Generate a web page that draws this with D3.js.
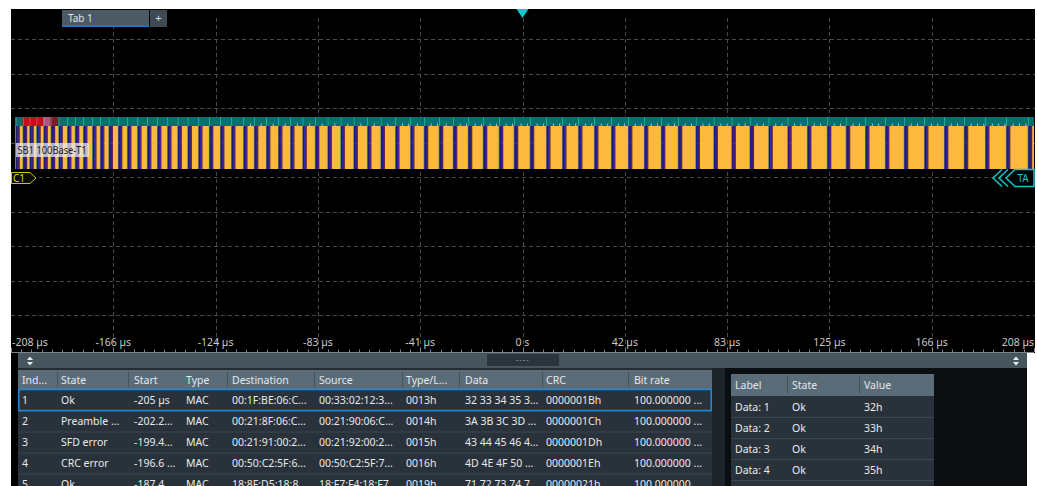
<!DOCTYPE html>
<html><head><meta charset="utf-8">
<script src="https://cdn.jsdelivr.net/npm/d3@7"></script>
<style>
html,body{margin:0;padding:0;background:#fff;overflow:hidden}
svg{display:block;font-family:"Noto Sans","Open Sans",sans-serif}
</style></head><body><svg id="c" width="1037" height="486"></svg>
<script>
// ---------- data ----------
const timeDomain = [-208, 208];
const tickValues = [-208, -166.4, -124.8, -83.2, -41.6, 0, 41.6, 83.2, 124.8, 166.4, 208];
const tickLabels = ["-208 µs","-166 µs","-124 µs","-83 µs","-41 µs","0 s","42 µs","83 µs","125 µs","166 µs","208 µs"];
const frameStarts = [-206.2,-203.2,-200.5,-197.7,-194.8,-191.8,-188.7,-185.2,-182.0,-178.7,-175.0,-171.8,-168.3,-164.5,-160.8,-156.7,-152.7,-148.6,-144.5,-140.3,-136.2,-131.9,-127.5,-123.0,-118.5,-113.6,-109.2,-104.3,-99.4,-94.5,-89.5,-84.4,-79.3,-74.0,-68.7,-63.2,-57.7,-51.8,-45.7,-40.1,-34.0,-28.3,-22.2,-16.1,-9.6,-3.5,3.0,9.6,16.1,22.6,29.1,36.0,42.9,49.4,56.3,63.2,70.4,77.7,85.0,92.4,100.0,107.7,115.7,123.8,131.5,139.3,147.4,155.1,163.3,171.4,179.5,188.1,196.6,205.5];
const frameFlags = ["ok","err","err","err","warn","fault"];
const headerFieldBytes = [7, 1, 6, 6, 2];
const byteTimeUs = 0.08;
const busLabel = "SB1 100Base-T1";

const tableHeaders = ["Ind...","State","Start","Type","Destination","Source","Type/L...","Data","CRC","Bit rate"];
const rowIndex = ["1","2","3","4","5"];
const rowState = ["Ok","Preamble ...","SFD error","CRC error","Ok"];
const rowStart = ["-205 µs","-202.2...","-199.4...","-196.6 ...","-187.4..."];
const rowType = ["MAC","MAC","MAC","MAC","MAC"];
const rowDest = ["00:1F:BE:06:C...","00:21:8F:06:C...","00:21:91:00:2...","00:50:C2:5F:6...","18:8F:D5:18:8..."];
const rowSrc = ["00:33:02:12:3...","00:21:90:06:C...","00:21:92:00:2...","00:50:C2:5F:7...","18:F7:F4:18:F7..."];
const rowTypeLen = ["0013h","0014h","0015h","0016h","0019h"];
const rowData = ["32 33 34 35 3...","3A 3B 3C 3D ...","43 44 45 46 4...","4D 4E 4F 50 ...","71 72 73 74 7..."];
const rowCrc = ["0000001Bh","0000001Ch","0000001Dh","0000001Eh","00000021h"];
const rowBitrate = ["100.000000 ...","100.000000 ...","100.000000 ...","100.000000 ...","100.000000 ..."];

const detailHeaders = ["Label","State","Value"];
const detailLabels = ["Data: 1","Data: 2","Data: 3","Data: 4"];
const detailStates = ["Ok","Ok","Ok","Ok"];
const detailValues = ["32h","33h","34h","35h"];

// ---------- drawing ----------
const svg = d3.select("#c");
const W = 1037, H = 486;
const x = d3.scaleLinear().domain(timeDomain).range([11, 1034]);
const yDiv = d3.scaleLinear().domain([0, 10]).range([4.5, 350]);

svg.append("rect").attr("width", W).attr("height", H).attr("fill", "#fff");
svg.append("rect").attr("x", 11).attr("y", 9).attr("width", 1024).attr("height", 344).attr("fill", "#000");
svg.append("rect").attr("x", 11).attr("y", 353).attr("width", 1016).attr("height", 133).attr("fill", "#000");

// grid
const grid = svg.append("g").attr("stroke", "#484848").attr("stroke-dasharray", "4,3").attr("stroke-width", 1);
tickValues.slice(1, -1).forEach(v => {
  grid.append("line").attr("x1", Math.round(x(v)) + 0.5).attr("x2", Math.round(x(v)) + 0.5)
    .attr("y1", 18).attr("y2", 351);
});
d3.range(1, 10).forEach(k => {
  const yy = Math.round(yDiv(k)) + 0.5;
  grid.append("line").attr("x1", 11).attr("x2", 1035).attr("y1", yy).attr("y2", yy);
});

// tab
svg.append("rect").attr("x", 62).attr("y", 10).attr("width", 87).attr("height", 17).attr("fill", "#4b5a65");
svg.append("rect").attr("x", 62).attr("y", 25).attr("width", 87).attr("height", 2).attr("fill", "#1677cc");
svg.append("text").attr("x", 68).attr("y", 22).attr("fill", "#dfe4e8").attr("font-size", 10).text("Tab 1");
svg.append("rect").attr("x", 150).attr("y", 10).attr("width", 17).attr("height", 17).attr("fill", "#3e4b55");
svg.append("text").attr("x", 158.5).attr("y", 22).attr("fill", "#dfe4e8").attr("font-size", 11).attr("text-anchor", "middle").text("+");

// trigger triangle
svg.append("path").attr("d", `M${x(0)-6},9 L${x(0)+6},9 L${x(0)},18 Z`).attr("fill", "#19c6d0");

// bus
const busTop = 117, busMid = 126, busBot = 169;
const headerColors = ["#1c1a84", "#5e24a0", "#2a2ab8", "#562490", "#a8285c"];
const flagColors = {ok: "#0c6e6b", err: "#c3101a", warn: "#a8587c", fault: "#7c1e28"};
const flagSep = {ok: "#2aa6a2", err: "#e04a50", warn: "#c888a0", fault: "#a04850"};
const frames = frameStarts.map((t, i) => ({
  t0: t,
  t1: i < frameStarts.length - 1 ? frameStarts[i + 1] : timeDomain[1],
  flag: frameFlags[i] || "ok"
}));
const bus = svg.append("g");
frames.forEach(f => {
  const x0 = x(Math.max(f.t0, timeDomain[0])), x1 = x(Math.min(f.t1, timeDomain[1]));
  bus.append("rect").attr("x", x0).attr("y", busTop).attr("width", x1 - x0).attr("height", busMid - busTop).attr("fill", flagColors[f.flag]);
  bus.append("rect").attr("x", x0).attr("y", busTop).attr("width", 1).attr("height", busMid - busTop).attr("fill", flagSep[f.flag]);
  let t = f.t0;
  headerFieldBytes.forEach((b, j) => {
    const te = Math.min(t + b * byteTimeUs, f.t1);
    bus.append("rect").attr("x", x(t)).attr("y", busMid).attr("width", Math.max(0, x(te) - x(t))).attr("height", busBot - busMid).attr("fill", headerColors[j]);
    t = te;
  });
  if (t < f.t1) {
    bus.append("rect").attr("x", x(t)).attr("y", busMid).attr("width", x1 - x(t)).attr("height", busBot - busMid).attr("fill", "#fdb93e");
    // small byte-label marks at the bottom of the label band
    if (f.t0 > -115) {
      for (let tt = t + 1.0; tt < f.t1 - 0.6; tt += 2.56) {
        bus.append("rect").attr("x", x(tt)).attr("y", busMid - 2.5).attr("width", 1).attr("height", 2.5).attr("fill", "#c9d6d6").attr("opacity", 0.8);
      }
    }
  }
  bus.append("rect").attr("x", x0 - 0.3).attr("y", busMid).attr("width", 0.6).attr("height", busBot - busMid).attr("fill", "#9ad84a");
});

// bus label
const lbl = svg.append("g");
lbl.append("rect").attr("x", 16).attr("y", 143).attr("width", 73).attr("height", 14).attr("fill", "rgba(235,235,235,0.72)");
lbl.append("text").attr("x", 17.5).attr("y", 154).attr("font-size", 10.5).attr("fill", "#1a1a1a")
  .attr("textLength", 69).attr("lengthAdjust", "spacingAndGlyphs").text(busLabel);

// C1 marker
svg.append("path").attr("d", "M11.5,172.5 L30,172.5 L36,178 L30,183.5 L11.5,183.5 Z").attr("fill", "#0c0c00").attr("stroke", "#c8c800").attr("stroke-width", 1);
svg.append("text").attr("x", 13).attr("y", 182).attr("font-size", 10).attr("fill", "#dada20").text("C1");

// TA marker
const ta = svg.append("g").attr("fill", "none").attr("stroke", "#18c4c8").attr("stroke-width", 1.5);
ta.append("path").attr("d", "M1034,169.5 L1015,169.5 L1006,178 L1015,186.5 L1034,186.5 Z").attr("fill", "#000");
ta.append("path").attr("d", "M1008,169.5 L999,178 L1008,186.5");
ta.append("path").attr("d", "M1002,169.5 L993,178 L1002,186.5");
svg.append("text").attr("x", 1023).attr("y", 182).attr("font-size", 10).attr("fill", "#18c4c8").attr("text-anchor", "middle").text("TA");

// axis labels
const ax = svg.append("g").attr("font-size", 10.5).attr("fill", "#c8c8c8");
tickValues.forEach((v, i) => {
  const anchor = i === 0 ? "start" : (i === tickValues.length - 1 ? "end" : "middle");
  const xx = i === 0 ? x(v) + 1 : x(v);
  ax.append("text").attr("x", xx).attr("y", 346).attr("text-anchor", anchor).text(tickLabels[i]);
});
// minor ticks
const minor = svg.append("g").attr("stroke", "#7a858c").attr("stroke-width", 1);
d3.range(0, 101).forEach(k => {
  const v = timeDomain[0] + k * (timeDomain[1] - timeDomain[0]) / 100;
  const xx = Math.round(x(v)) + 0.5;
  minor.append("line").attr("x1", xx).attr("x2", xx).attr("y1", k % 10 === 0 ? 348 : 349.5).attr("y2", 352);
});
svg.append("line").attr("x1", 11).attr("x2", 1034).attr("y1", 352.5).attr("y2", 352.5).attr("stroke", "#7a858c");

// scroll bar
svg.append("rect").attr("x", 18).attr("y", 353).attr("width", 1009).attr("height", 15).attr("fill", "#47555f");
svg.append("rect").attr("x", 487).attr("y", 354).attr("width", 72).attr("height", 12).attr("fill", "#2b343a");
svg.append("line").attr("x1", 516).attr("x2", 530).attr("y1", 360.5).attr("y2", 360.5).attr("stroke", "#6d7a84").attr("stroke-dasharray", "2,1.5");
function updown(cx) {
  svg.append("path").attr("d", `M${cx-3},360 L${cx+3},360 L${cx},356.5 Z`).attr("fill", "#e8ecef");
  svg.append("path").attr("d", `M${cx-3},362 L${cx+3},362 L${cx},365.5 Z`).attr("fill", "#e8ecef");
}
updown(30); updown(1016);

// main table
const tX = 18, tR = 712;
svg.append("rect").attr("x", tX).attr("y", 368).attr("width", tR - tX).attr("height", 118).attr("fill", "#252d33");
svg.append("rect").attr("x", tX).attr("y", 370).attr("width", tR - tX).attr("height", 19).attr("fill", "#5b6c79");
const colX = [22, 61, 134, 186, 232, 319, 406, 465, 546, 634];
const dividers = [57, 128, 227, 314, 402, 459, 542, 628];
dividers.forEach(d => svg.append("line").attr("x1", d + 0.5).attr("x2", d + 0.5).attr("y1", 372).attr("y2", 387).attr("stroke", "#43515b"));
const hdr = svg.append("g").attr("font-size", 10.5).attr("fill", "#e2e8ec");
tableHeaders.forEach((h, i) => hdr.append("text").attr("x", colX[i]).attr("y", 383.5).text(h));
const rowH = 21, rowTop = 389.5;
const columns = [rowIndex, rowState, rowStart, rowType, rowDest, rowSrc, rowTypeLen, rowData, rowCrc, rowBitrate];
rowIndex.forEach((r, ri) => {
  const yTop = rowTop + ri * rowH;
  svg.append("rect").attr("x", tX).attr("y", yTop).attr("width", tR - tX).attr("height", rowH).attr("fill", "#29323a");
  if (ri > 0) svg.append("line").attr("x1", tX).attr("x2", tR).attr("y1", yTop + 0.5).attr("y2", yTop + 0.5).attr("stroke", "#3c474f");
  const g = svg.append("g").attr("font-size", 10.5).attr("fill", "#e8eaec");
  columns.forEach((col, ci) => g.append("text").attr("x", colX[ci]).attr("y", yTop + 14.5).text(col[ri]));
});
svg.append("rect").attr("x", tX + 0.75).attr("y", rowTop).attr("width", tR - tX - 1.5).attr("height", rowH).attr("fill", "none").attr("stroke", "#1f8ad8").attr("stroke-width", 1.5);

// right panel
svg.append("rect").attr("x", 712).attr("y", 368).attr("width", 13).attr("height", 118).attr("fill", "#1e252a");
svg.append("rect").attr("x", 725).attr("y", 368).attr("width", 302).attr("height", 118).attr("fill", "#0b0e10");
const dX = 731, dR = 934;
svg.append("rect").attr("x", dX).attr("y", 374).attr("width", dR - dX).attr("height", 22).attr("fill", "#5b6c79");
const dColX = [735, 792, 864];
[787, 859].forEach(d => svg.append("line").attr("x1", d + 0.5).attr("x2", d + 0.5).attr("y1", 376).attr("y2", 394).attr("stroke", "#43515b"));
const dh = svg.append("g").attr("font-size", 10.5).attr("fill", "#e2e8ec");
detailHeaders.forEach((h, i) => dh.append("text").attr("x", dColX[i]).attr("y", 389).text(h));
const dCols = [detailLabels, detailStates, detailValues];
const dTop = 396;
d3.range(detailLabels.length + 1).forEach(ri => {
  const yTop = dTop + ri * 21;
  svg.append("rect").attr("x", dX).attr("y", yTop).attr("width", dR - dX).attr("height", 21).attr("fill", "#29323a");
  if (ri > 0) svg.append("line").attr("x1", dX).attr("x2", dR).attr("y1", yTop + 0.5).attr("y2", yTop + 0.5).attr("stroke", "#3c474f");
  if (ri < detailLabels.length) {
    const g = svg.append("g").attr("font-size", 10.5).attr("fill", "#e8eaec");
    dCols.forEach((col, ci) => g.append("text").attr("x", dColX[ci]).attr("y", yTop + 14.5).text(col[ri]));
  }
});
</script></body></html>
